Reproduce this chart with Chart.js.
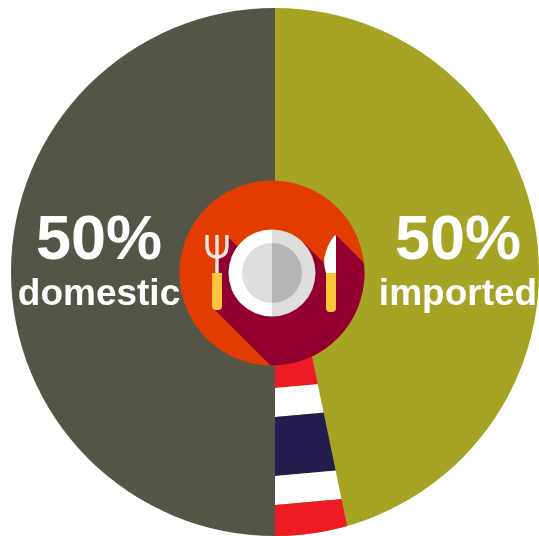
<!DOCTYPE html>
<html>
<head>
<meta charset="utf-8">
<title>Food origin</title>
<script src="https://cdn.jsdelivr.net/npm/chart.js@4"></script>
<style>
  html, body { margin: 0; padding: 0; background: #fff; }
  #wrap { position: relative; width: 539px; height: 536px; }
</style>
</head>
<body>
<div id="wrap"><canvas id="chart"></canvas></div>
<script>
// Share of food by origin
const categories = ['imported', 'domestic'];
const shares = [50, 50];
const sliceColors = ['#a6a425', '#545547'];

// Text block anchors, relative to the pie centre
const labelSpots = [
  { x: 183, y: -30, nameX: 183, nameY: 23 },
  { x: -176, y: -30, nameX: -176, nameY: 23 }
];

// Draws the flag wedge under the disc
function drawFlag(ctx, cx, cy, r) {
  ctx.save();
  ctx.beginPath();
  ctx.arc(cx, cy, r, 0, Math.PI * 2);
  ctx.clip();
  ctx.beginPath();
  ctx.moveTo(cx, cy + 70);
  ctx.lineTo(cx + 34, cy + 70);
  ctx.lineTo(cx + 75, cy + 268);
  ctx.lineTo(cx, cy + 268);
  ctx.closePath();
  ctx.clip();
  const bands = [
    ['#ed1c24', 70, 116],
    ['#ffffff', 116, 145],
    ['#241d4f', 145, 204],
    ['#ffffff', 204, 233],
    ['#ed1c24', 233, 290]
  ];
  // stripes tilt up slightly to the right
  bands.forEach(([color, top, bottom]) => {
    ctx.fillStyle = color;
    ctx.beginPath();
    ctx.moveTo(cx, cy + top);
    ctx.lineTo(cx + 80, cy + top - 7);
    ctx.lineTo(cx + 80, cy + bottom - 7);
    ctx.lineTo(cx, cy + bottom);
    ctx.closePath();
    ctx.fill();
  });
  ctx.restore();
}

// Orange disc with plate, fork, knife and the long shadow
function drawBadge(ctx, bx, by) {
  const R = 92.5;
  ctx.save();
  ctx.beginPath();
  ctx.arc(bx, by, R, 0, Math.PI * 2);
  ctx.fillStyle = '#e23c00';
  ctx.fill();
  ctx.clip();

  const shadow = [[-44, -36], [-22, -14], [0, -30], [31, -31], [52, -10], [64, -38], [110, 8], [110, 110],
    [16, 110], [-59, 35], [-55, 30], [-55, -16], [-44, -20]];
  ctx.fillStyle = '#91002f';
  ctx.beginPath();
  shadow.forEach(([x, y], i) => i ? ctx.lineTo(bx + x, by + y) : ctx.moveTo(bx + x, by + y));
  ctx.closePath();
  ctx.fill();
  ctx.restore();

  // plate, split down the middle
  const half = (radius, left, right) => {
    ctx.fillStyle = left;
    ctx.beginPath();
    ctx.arc(bx, by, radius, Math.PI / 2, Math.PI * 1.5);
    ctx.fill();
    ctx.fillStyle = right;
    ctx.beginPath();
    ctx.arc(bx, by, radius, -Math.PI / 2, Math.PI / 2);
    ctx.fill();
  };
  half(43.5, '#ffffff', '#dedede');
  half(30, '#dedede', '#b5b5b5');

  // fork
  const forkX = bx - 55;
  ctx.strokeStyle = '#f6e6e6';
  ctx.lineWidth = 3.4;
  ctx.beginPath();
  ctx.moveTo(forkX - 10, by - 38);
  ctx.lineTo(forkX - 10, by - 27);
  ctx.quadraticCurveTo(forkX - 9.5, by - 16, forkX, by - 16);
  ctx.quadraticCurveTo(forkX + 9.5, by - 16, forkX + 10, by - 27);
  ctx.lineTo(forkX + 10, by - 38);
  ctx.moveTo(forkX, by - 38);
  ctx.lineTo(forkX, by);
  ctx.stroke();
  ctx.fillStyle = '#fcc63c';
  ctx.beginPath();
  ctx.roundRect(forkX - 5, by, 10, 37, [0, 0, 4, 4]);
  ctx.fill();

  // knife
  const knifeL = bx + 54, knifeR = bx + 64;
  ctx.fillStyle = '#ffffff';
  ctx.beginPath();
  ctx.moveTo(knifeR - 1, by - 38);
  ctx.lineTo(knifeR, by - 37);
  ctx.lineTo(knifeR, by);
  ctx.lineTo(knifeL, by);
  ctx.quadraticCurveTo(knifeL - 2, by - 6, knifeL - 2, by - 14);
  ctx.quadraticCurveTo(knifeL + 1, by - 29, knifeR - 1, by - 38);
  ctx.closePath();
  ctx.fill();
  ctx.fillStyle = '#fcc63c';
  ctx.beginPath();
  ctx.roundRect(knifeL, by, knifeR - knifeL, 39, [0, 0, 4, 4]);
  ctx.fill();
}

const foodPlugin = {
  id: 'foodOverlay',
  afterDatasetsDraw(chart) {
    const { ctx } = chart;
    const arcs = chart.getDatasetMeta(0).data;
    const cx = arcs[0].x, cy = arcs[0].y, r = arcs[0].outerRadius;
    drawFlag(ctx, cx, cy, r);
    drawBadge(ctx, cx - 3, cy + 1);

    ctx.save();
    ctx.fillStyle = '#ffffff';
    ctx.textAlign = 'center';
    ctx.textBaseline = 'middle';
    categories.forEach((name, i) => {
      const spot = labelSpots[i];
      ctx.font = 'bold 63px "Liberation Sans", Arial, sans-serif';
      ctx.fillText(shares[i] + '%', cx + spot.x, cy + spot.y);
      ctx.font = 'bold 37px "Liberation Sans", Arial, sans-serif';
      ctx.fillText(name, cx + spot.nameX, cy + spot.nameY);
    });
    ctx.restore();
  }
};

new Chart(document.getElementById('chart'), {
  type: 'pie',
  data: {
    labels: categories,
    datasets: [{
      data: shares,
      backgroundColor: sliceColors,
      borderWidth: 0
    }]
  },
  options: {
    responsive: true,
    maintainAspectRatio: false,
    animation: false,
    layout: { padding: { left: 11, top: 8, right: 0, bottom: 0 } },
    plugins: {
      legend: { display: false },
      tooltip: { enabled: false }
    }
  },
  plugins: [foodPlugin]
});
</script>
</body>
</html>
